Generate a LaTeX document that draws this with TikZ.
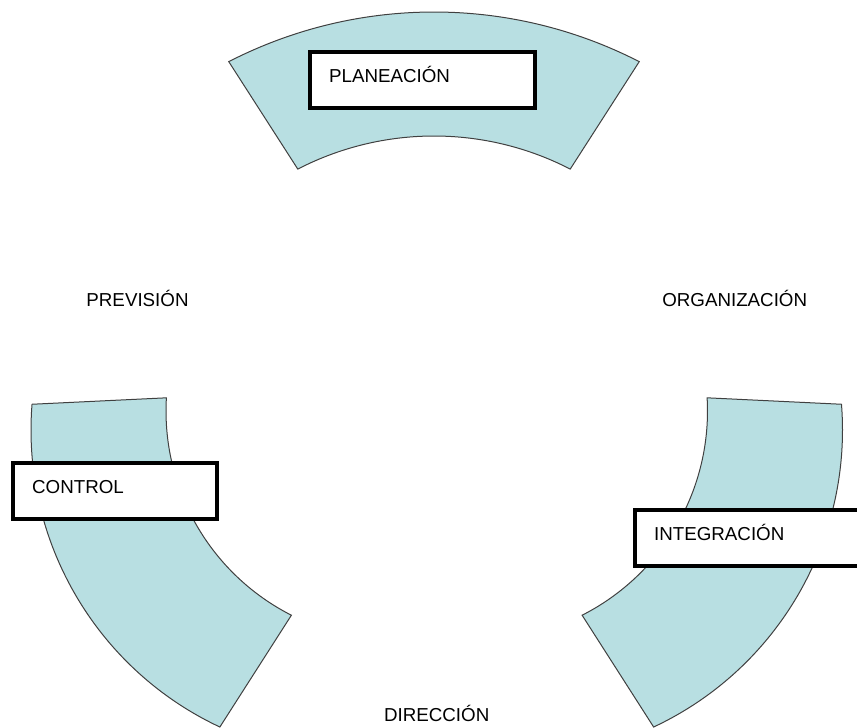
\documentclass[tikz,border=0pt]{standalone}
\usepackage{fontspec}
\setmainfont{Liberation Sans}
\usepackage{tikz}
\usetikzlibrary{calc}
\definecolor{bandfill}{HTML}{B8DFE2}

\begin{document}
\begin{tikzpicture}[x=0.3mm, y=0.3mm,
    band/.style={draw=black!75, line width=0.3mm, fill=bandfill},
    stage/.style={rectangle, draw=black, line width=1.3mm, fill=white, minimum height=16.8mm, inner xsep=5.7mm, align=left, text height=3mm, text depth=1.4mm, font=\fontsize{16}{19}\selectfont},
    label/.style={anchor=base, inner sep=0pt, font=\fontsize{16}{19}\selectfont}
]
    \useasboundingbox (0,0) rectangle (857,728);
    \clip (0,0) rectangle (857,728);

    % top band
    \draw[band] (434,267) ++(62.8:449) arc[start angle=62.8, end angle=117.2, radius=449]
        -- ($(434,295)+(117.3:297)$) arc[start angle=117.3, end angle=62.7, radius=297] -- cycle;
    % left band
    \draw[band] (359,298) ++(175.5:328) arc[start angle=175.5, end angle=244.9, radius=328]
        -- ($(395,317)+(243.1:229)$) arc[start angle=243.1, end angle=176.7, radius=229] -- cycle;
    % right band
    \draw[band] (514.5,298) ++(4.5:328) arc[start angle=4.5, end angle=-64.9, radius=328]
        -- ($(478.5,317)+(-63.1:229)$) arc[start angle=-63.1, end angle=3.3, radius=229] -- cycle;

    % boxes on the bands
    \node[stage, anchor=west, text width=56.1mm] (plan) at (308,648) {PLANEACIÓN};
    \node[stage, anchor=west, text width=49.8mm] (ctrl) at (11,237) {CONTROL};
    \node[stage, anchor=west, text width=60.6mm] (integ) at (633,190) {INTEGRACIÓN};

    % free labels
    \node[label] (prev) at (137.5,421) {PREVISIÓN};
    \node[label] (org) at (734.7,421) {ORGANIZACIÓN};
    \node[label] (dir) at (436.7,6) {DIRECCIÓN};
\end{tikzpicture}
\end{document}
